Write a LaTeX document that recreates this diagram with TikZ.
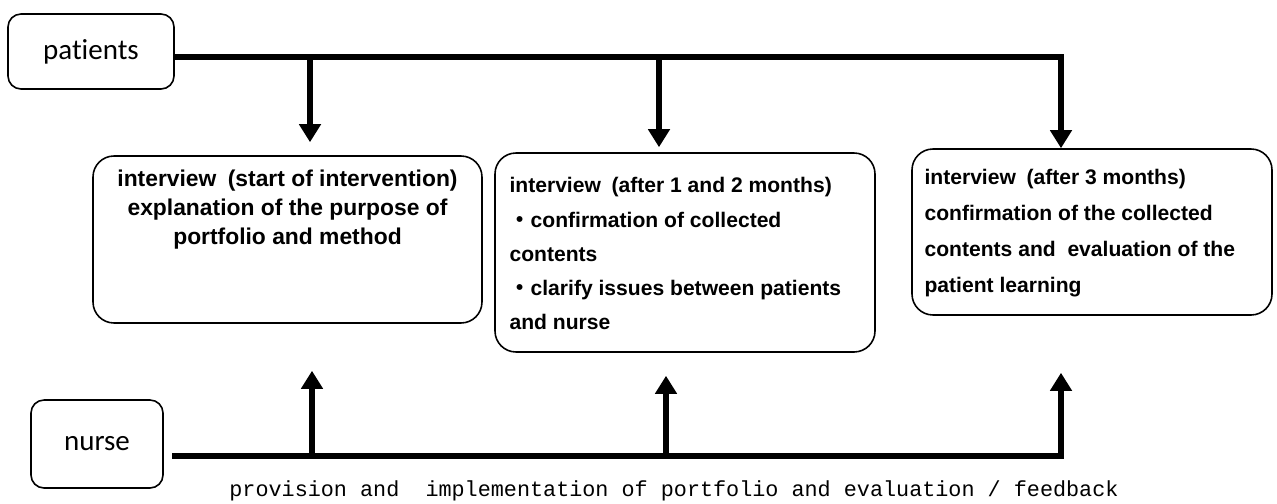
\documentclass[tikz,border=0pt]{standalone}
\usepackage{fontspec}
\usepackage{tikz}
\usetikzlibrary{arrows.meta, positioning, calc}
\newfontfamily\labelfont[Ligatures=NoCommon]{Carlito}
\newfontfamily\boxfont{Liberation Sans}
\newfontfamily\captionfont{Liberation Mono}
\newfontfamily\cjkfont{Noto Sans CJK JP}
\newcommand{\middot}{{\cjkfont ・}}

\begin{document}
\begin{tikzpicture}[
    actor/.style={draw, line width=0.9pt, rounded corners=0.26cm, inner sep=0pt,
        font=\labelfont\fontsize{16.5}{20}\selectfont},
    stage/.style={draw, line width=0.9pt, rounded corners=0.42cm, inner sep=0pt},
    stagetext/.style={inner sep=0pt, font=\boxfont\bfseries\fontsize{12}{19.5}\selectfont},
    flow/.style={line width=3.2pt},
    flowarrow/.style={flow, -{Triangle[width=0.42cm,length=0.36cm]}}
]
    \useasboundingbox (0,0) rectangle (25.54,10.06);

    % Actors
    \node[actor, minimum width=3.32cm, minimum height=1.5cm] (patients) at (1.82,9.03) {patients};
    \node[actor, minimum width=2.64cm, minimum height=1.76cm] (nurse) at (1.94,1.18) {nurse};

    % Interview boxes
    \node[stage, minimum width=7.78cm, minimum height=3.34cm] (start) at (5.75,5.27) {};
    \node[stage, minimum width=7.60cm, minimum height=3.98cm] (middle) at (13.70,5.01) {};
    \node[stage, minimum width=7.20cm, minimum height=3.32cm] (final) at (21.84,5.42) {};

    \node[stagetext, align=center, font=\boxfont\bfseries\fontsize{13}{16.5}\selectfont,
        below=0.28cm of start.north] (starttext)
        {interview\enspace(start of intervention)\\explanation of the purpose of\\portfolio and method};
    \node[stagetext, align=left, below right=0.50cm and 0.30cm of middle.north west] (middletext)
        {interview\enspace(after 1 and 2 months)\\\middot confirmation of collected\\contents\\%
         \middot clarify issues between patients\\and nurse};
    \node[stagetext, align=left, font=\boxfont\bfseries\fontsize{12}{20.5}\selectfont,
        below right=0.42cm and 0.26cm of final.north west] (finaltext)
        {interview\enspace(after 3 months)\\confirmation of the collected\\%
         contents and\ \ evaluation of the\\patient learning};

    % Patients line
    \coordinate (p1) at (6.20,8.92);
    \coordinate (p2) at (13.18,8.92);
    \coordinate (p3) at (21.22,8.92);
    \draw[flowarrow, shorten >=0.26cm] (p1) -- (p1 |- start.north);
    \draw[flowarrow, shorten >=0.10cm] (p2) -- (p2 |- middle.north);
    \draw[flowarrow] (patients.east |- p3) -- (p3) -- (p3 |- final.north);

    % Nurse line
    \coordinate (nbegin) at (3.44,0.94);
    \coordinate (n1) at (6.24,0.94);
    \coordinate (n2) at (13.32,0.94);
    \coordinate (n3) at (21.22,0.94);
    \draw[flowarrow, shorten >=0.94cm] (n1) -- (n1 |- start.south);
    \draw[flowarrow, shorten >=0.46cm] (n2) -- (n2 |- middle.south);
    \draw[flowarrow, shorten >=1.14cm] (nbegin) -- (n3) -- (n3 |- final.south);

    \node[inner sep=0pt, font=\captionfont\fontsize{12.4}{14}\selectfont] (provision) at (13.48,0.24)
        {provision and\ \ implementation of portfolio and evaluation / feedback};
\end{tikzpicture}
\end{document}
